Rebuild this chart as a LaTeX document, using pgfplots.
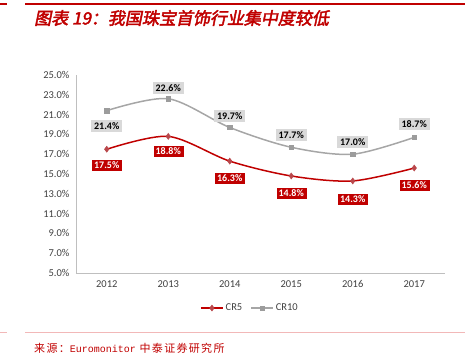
\documentclass[border=0pt]{standalone}
\usepackage{pgfplots}
\usepackage{pgfplotstable}
\pgfplotsset{compat=1.18}
\usepackage{fontspec}
\setmainfont{Carlito}
\newfontfamily\cjk{Noto Sans CJK SC}
\newfontfamily\cjkfoot{Noto Sans CJK SC}[LetterSpace=12]
\newfontfamily\cjktitle{Noto Sans CJK SC}[FakeSlant=0.2,FakeBold=2.5]
\newfontfamily\monofoot{Liberation Mono}
\definecolor{myred}{HTML}{C00000}
\definecolor{titlered}{HTML}{C00000}
\definecolor{markred}{HTML}{B9474B}
\definecolor{linegray}{HTML}{A6A6A6}
\definecolor{markgray}{HTML}{9C9C9C}
\definecolor{boxgray}{HTML}{D9D9D9}
\definecolor{axisgray}{HTML}{BFBFBF}
\definecolor{ticktext}{HTML}{404040}
\definecolor{pinkline}{HTML}{F2B8B8}

\pgfplotstableread{
x y off
0 17.5 -16
1 18.8 -15
2 16.3 -17
3 14.8 -17
4 14.3 -18
5 15.6 -17
}\crfive
\pgfplotstableread{
x y off
0 21.4 -15
1 22.6 11
2 19.7 11
3 17.7 12
4 17.0 12
5 18.7 13
}\crten

\begin{document}
\begin{tikzpicture}[x=1pt,y=1pt]
\path (0,0) rectangle (475,364);
% top bars
\fill[titlered] (0,359) rectangle (7,361);
\fill[titlered] (25,359) rectangle (465,361);
\node[anchor=west,text=titlered,inner sep=0pt] at (34,346) {\cjktitle\fontsize{17}{19}\selectfont 图表 19：我国珠宝首饰行业集中度较低};
% bottom bars
\fill[pinkline] (0,30.5) rectangle (7,31.5);
\fill[pinkline] (25,30.5) rectangle (465,31.5);
\node[anchor=west,text=titlered,inner sep=0pt] at (34,16) {\cjkfoot\fontsize{11}{13}\selectfont 来源：{\monofoot\fontsize{10}{12}\selectfont Euromonitor} 中泰证券研究所};

\begin{axis}[
  at={(76pt,91pt)}, anchor=south west,
  scale only axis, width=369pt, height=198pt,
  xmin=-0.5, xmax=5.5, ymin=5, ymax=25,
  xtick={0,1,2,3,4,5},
  xticklabels={2012,2013,2014,2015,2016,2017},
  ytick={5,7,...,25},
  yticklabel={\pgfmathprintnumber[fixed,precision=1,zerofill]{\tick}\%},
  /pgf/number format/assume math mode=true,
  tick label style={font=\fontsize{10.5}{12}\selectfont, text=ticktext},
  xticklabel style={yshift=-4pt},
  yticklabel style={xshift=-3pt},
  major tick length=0pt,
  axis x line*=bottom, axis y line*=left,
  axis line style={axisgray, line width=0.8pt},
  x axis line style={-}, y axis line style={-},
  clip=false,
  legend style={at={(0.4715,-0.177)}, anchor=center, draw=none, fill=none,
    legend columns=2, font=\fontsize{10.5}{12}\selectfont, text=ticktext,
    /tikz/every even column/.append style={column sep=6pt}},
  legend cell align=left,
  legend image code/.code={
    \draw[#1] (0pt,0pt) -- (22pt,0pt);
    \draw[#1,only marks] plot coordinates {(11pt,0pt)};
  },
  nodes near coords={\pgfmathprintnumber[fixed,precision=1,zerofill]{\pgfplotspointmeta}\%},
  visualization depends on={\thisrow{off} \as \off},
]
\addplot[myred, line width=1.5pt, smooth, tension=0.5,
  mark=diamond*, mark size=3pt, mark options={fill=markred, draw=markred, line width=0.5pt},
  every node near coord/.append style={anchor=center, yshift=\off pt, fill=myred, text=white,
     font=\bfseries\fontsize{10}{11}\selectfont, inner xsep=3pt, inner ysep=2.5pt, draw=white, line width=0.3pt}]
  table[x=x,y=y] {\crfive};
\addlegendentry{CR5}
\addplot[linegray, line width=1.5pt, smooth, tension=0.5,
  mark=square*, mark size=2.2pt, mark options={fill=markgray, draw=markgray, line width=0.5pt},
  every node near coord/.append style={anchor=center, yshift=\off pt, fill=boxgray, text=black,
     font=\bfseries\fontsize{10}{11}\selectfont, inner xsep=3pt, inner ysep=2.5pt}]
  table[x=x,y=y] {\crten};
\addlegendentry{CR10}
\end{axis}
\end{tikzpicture}
\end{document}
